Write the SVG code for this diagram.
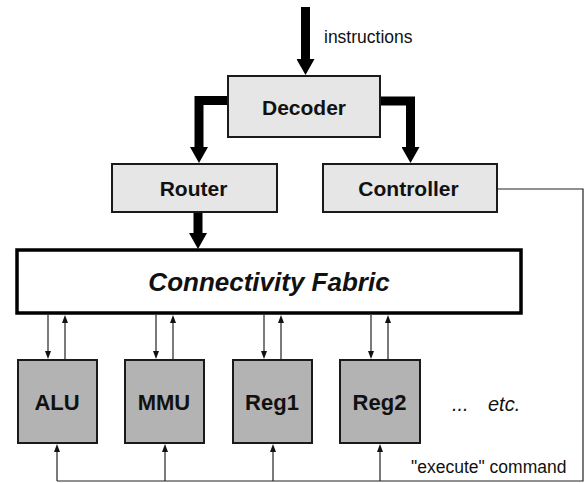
<svg xmlns="http://www.w3.org/2000/svg" width="585" height="483" viewBox="0 0 585 483">
<style>
.box{fill:#e6e6e6;stroke:#1a1a1a;stroke-width:2}
.mod{fill:#b3b3b3;stroke:#1a1a1a;stroke-width:2}
.fab{fill:#ffffff;stroke:#000;stroke-width:3.5}
.lbl{font-family:"Liberation Sans",Arial,sans-serif;font-weight:bold;font-size:21px;fill:#111;text-anchor:middle}
.mlbl{font-family:"Liberation Sans",Arial,sans-serif;font-weight:bold;font-size:22px;fill:#111;text-anchor:middle}
.thick{fill:none;stroke:#000;stroke-width:9;stroke-linejoin:miter}
.thin{fill:none;stroke:#222;stroke-width:1.2}
.note{font-family:"Liberation Sans",Arial,sans-serif;font-size:17.5px;fill:#111}
</style>
<defs>
<marker id="big" markerUnits="userSpaceOnUse" viewBox="0 0 16 18" refX="0" refY="9" markerWidth="16" markerHeight="18" orient="auto">
<path d="M0,0 L16,9 L0,18 z" fill="#000"/>
</marker>
<marker id="small" markerUnits="userSpaceOnUse" viewBox="0 0 8 6" refX="0" refY="3" markerWidth="8" markerHeight="6" orient="auto">
<path d="M0,0 L8,3 L0,6 z" fill="#111"/>
</marker>
</defs>

<g id="connectors">
<path class="thick" d="M305.5,7 V59" marker-end="url(#big)"/>
<path class="thick" d="M229,100.5 H199 V147" marker-end="url(#big)"/>
<path class="thick" d="M381,101 H410.5 V147" marker-end="url(#big)"/>
<path class="thick" d="M198,213 V233" marker-end="url(#big)"/>
<path class="thin" d="M497,189 H583 V481 H57"/>
<path class="thin" d="M48,315 V351" marker-end="url(#small)"/>
<path class="thin" d="M65,359 V323" marker-end="url(#small)"/>
<path class="thin" d="M156,315 V351" marker-end="url(#small)"/>
<path class="thin" d="M173,359 V323" marker-end="url(#small)"/>
<path class="thin" d="M264,315 V351" marker-end="url(#small)"/>
<path class="thin" d="M281,359 V323" marker-end="url(#small)"/>
<path class="thin" d="M371,315 V351" marker-end="url(#small)"/>
<path class="thin" d="M388,359 V323" marker-end="url(#small)"/>
<path class="thin" d="M57,481 V452" marker-end="url(#small)"/>
<path class="thin" d="M165,481 V452" marker-end="url(#small)"/>
<path class="thin" d="M273,481 V452" marker-end="url(#small)"/>
<path class="thin" d="M380,481 V452" marker-end="url(#small)"/>
</g>

<text class="note" x="324" y="43">instructions</text>

<g id="decoder">
<rect class="box" x="228" y="76" width="152" height="61"/>
<text class="lbl" x="304" y="115">Decoder</text>
</g>
<g id="router">
<rect class="box" x="112" y="164" width="165" height="48"/>
<text class="lbl" x="193.5" y="196">Router</text>
</g>
<g id="controller">
<rect class="box" x="323" y="164" width="174" height="48"/>
<text class="lbl" x="408.5" y="196">Controller</text>
</g>
<g id="fabric">
<rect class="fab" x="17" y="250" width="504" height="63"/>
<text class="lbl" x="269" y="291" style="font-size:26px;font-style:italic">Connectivity Fabric</text>
</g>
<g id="alu">
<rect class="mod" x="18" y="360" width="79" height="83"/>
<text class="mlbl" x="57" y="410">ALU</text>
</g>
<g id="mmu">
<rect class="mod" x="125" y="360" width="79" height="83"/>
<text class="mlbl" x="164" y="410">MMU</text>
</g>
<g id="reg1">
<rect class="mod" x="233" y="360" width="79" height="83"/>
<text class="mlbl" x="272" y="410">Reg1</text>
</g>
<g id="reg2">
<rect class="mod" x="340" y="360" width="80" height="83"/>
<text class="mlbl" x="379.5" y="410">Reg2</text>
</g>
<g id="etc">
<text class="note" x="452" y="411" style="font-size:20px;font-style:italic">...</text>
<text class="note" x="488" y="411" style="font-size:20px;font-style:italic">etc.</text>
</g>
<text class="note" x="411" y="473">"execute" command</text>
</svg>
